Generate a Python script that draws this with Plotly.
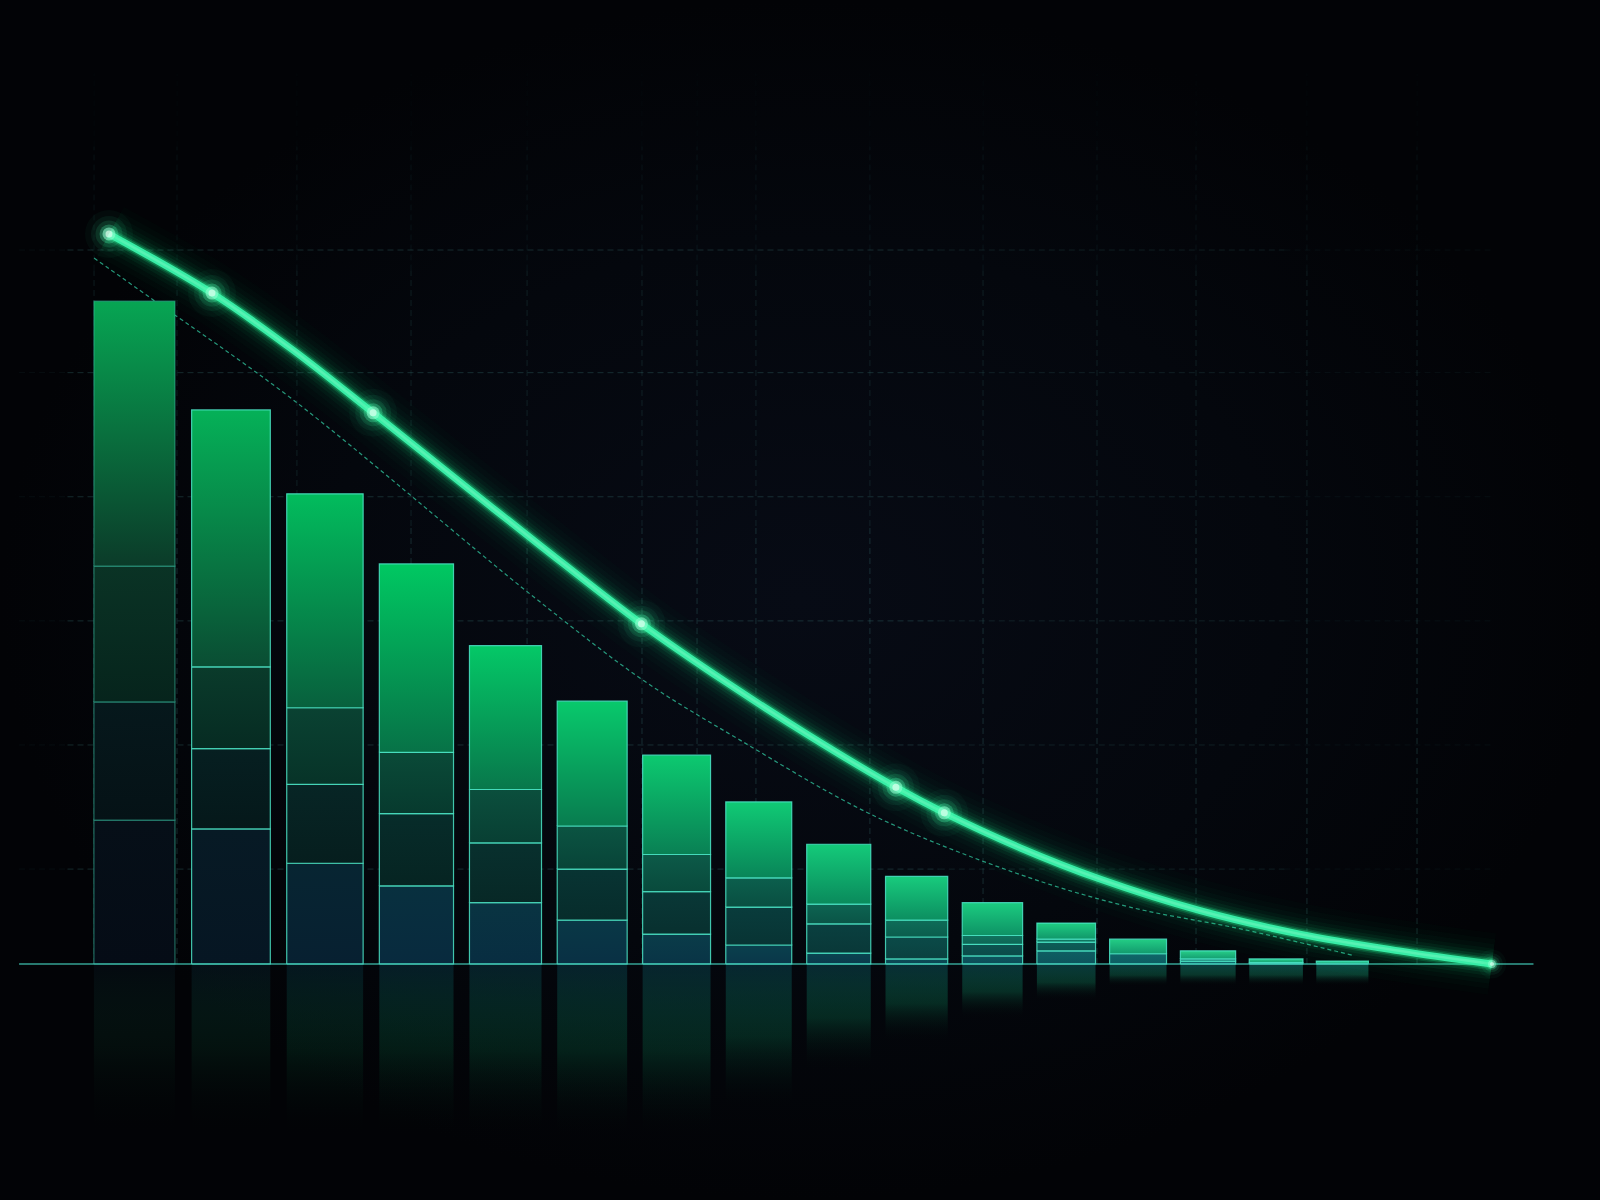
import plotly.graph_objects as go

# ---------------- DATA ----------------
periods = [f"P{i}" for i in range(1, 17)]
# stacked bar segments, bottom -> top
seg_base  = [19.7, 18.5, 13.8, 10.7, 8.4, 6.0, 4.1, 2.6, 1.5, 0.7, 1.1, 1.8, 1.4, 0.4, 0.2, 0.1]
seg_lower = [16.2, 11.0, 10.8, 9.9, 8.2, 7.0, 5.8, 5.2, 4.0, 3.0, 1.6, 1.2, 0.0, 0.3, 0.0, 0.0]
seg_upper = [18.6, 11.2, 10.5, 8.4, 7.3, 5.9, 5.1, 4.0, 2.7, 2.3, 1.2, 0.4, 0.0, 0.0, 0.0, 0.0]
seg_top   = [36.3, 35.2, 29.3, 25.8, 19.7, 17.1, 13.6, 10.4, 8.2, 6.0, 4.5, 2.2, 2.0, 1.1, 0.5, 0.3]

# glowing trend curve
trend_x = [0, 7.45, 13.3, 19.1, 25.4, 31.2, 38.5, 44.7, 50.7, 56.9, 60.4, 65.9, 71.7, 78.9, 86.1, 93.3, 100]
trend_y = [100, 91.9, 84.1, 75.5, 66.0, 57.3, 46.6, 38.5, 31.2, 24.2, 20.7, 15.9, 11.6, 7.3, 4.1, 1.8, 0]
marker_idx = [0, 1, 3, 6, 9, 10, 16]

# thin dashed guide curve
guide_x = [-1.08, 3.18, 13.3, 30.7, 38.6, 45.6, 55.2, 65.5, 73.8, 82.1, 89.9]
guide_y = [96.7, 91.0, 77.3, 50.3, 38.9, 30.7, 20.4, 12.5, 7.8, 4.7, 1.2]

# ---------------- LAYOUT / STYLE ----------------
X_RANGE = [-7.88, 107.81]
Y_RANGE = [-32.33, 132.05]
grid_v = [-1.08, 4.92, 13.59, 21.84, 30.23, 38.54, 42.52, 46.78, 55.02, 63.20, 71.44, 78.60, 86.62, 94.58]
grid_h = [13.0, 30.0, 47.0, 64.0, 81.0, 97.8]

n = len(periods)
centers, widths = [], []
c, step, w = 1.84, 6.98, 5.86
for i in range(n):
    centers.append(c)
    widths.append(w)
    c += step
    step *= 0.9735
    w *= 0.971


def hex2rgb(h):
    h = h.lstrip('#')
    return tuple(int(h[k:k + 2], 16) for k in (0, 2, 4))


def rgba(h, a):
    r, g, b = hex2rgb(h)
    return f"rgba({r},{g},{b},{a})"


def interp(anchors, t):
    pos = [0, 3 / 15, 8 / 15, 1.0]
    for k in range(len(pos) - 1):
        if t <= pos[k + 1]:
            f = (t - pos[k]) / (pos[k + 1] - pos[k])
            a, b = hex2rgb(anchors[k]), hex2rgb(anchors[k + 1])
            r = [round(a[j] + (b[j] - a[j]) * f) for j in range(3)]
            return '#%02x%02x%02x' % tuple(r)
    return anchors[-1]


# palettes (top colour, bottom colour) per segment, anchored at bars 1, 4, 9, 16
pal = {
    3: (['#07a553', '#00c862', '#14ca7a', '#2ed08e'], ['#0b3b29', '#077247', '#0a8a5c', '#18a57a']),
    2: (['#0a3325', '#0a4a38', '#0d6452', '#169a7c'], ['#06241c', '#073a2e', '#0a5446', '#13907a']),
    1: (['#06181c', '#072c2a', '#0a4040', '#118478'], ['#051216', '#062422', '#093838', '#0f7c72']),
    0: (['#060f18', '#08303f', '#0b4450', '#12807a'], ['#050c16', '#082a3e', '#0a3a4c', '#107672']),
}

fig = go.Figure()

# ---- background vignette ----
fig.add_trace(go.Scatter(
    x=[X_RANGE[0], X_RANGE[1], X_RANGE[1], X_RANGE[0], X_RANGE[0]],
    y=[Y_RANGE[0], Y_RANGE[0], Y_RANGE[1], Y_RANGE[1], Y_RANGE[0]],
    mode='lines', fill='toself', line=dict(width=0, color='rgba(0,0,0,0)'),
    fillgradient=dict(type='radial', colorscale=[[0, '#070b15'], [0.6, '#04070d'], [1, '#020306']]),
    hoverinfo='skip', showlegend=False))

# ---- grid (dashed, fading upward / to the right) ----
def add_lines(xs, ys, color, width, dash):
    fig.add_trace(go.Scatter(x=xs, y=ys, mode='lines', hoverinfo='skip', showlegend=False,
                             line=dict(color=color, width=width, dash=dash)))

for lo, hi, a in [(0, 60, 0.33), (60, 95, 0.22), (95, 112, 0.12), (112, 122, 0.05)]:
    xs, ys = [], []
    for gx in grid_v:
        xs += [gx, gx, None]
        ys += [lo, hi, None]
    add_lines(xs, ys, f"rgba(60,120,120,{a})", 1, '6px,4px')

for lo, hi, a in [(-6.5, -3, 0.1), (-3, 60, 0.33), (60, 85, 0.22), (85, 100, 0.1)]:
    xs, ys = [], []
    for gy in grid_h:
        xs += [lo, hi, None]
        ys += [gy, gy, None]
    add_lines(xs, ys, f"rgba(60,120,120,{a})", 1, '6px,4px')

# ---- dashed guide (behind bars) ----
fig.add_trace(go.Scatter(x=guide_x, y=guide_y, mode='lines', hoverinfo='skip', showlegend=False,
                         line=dict(color='rgba(50,200,160,0.75)', width=1.2, dash='4px,3px',
                                   shape='spline', smoothing=1.0)))

segs = [seg_base, seg_lower, seg_upper, seg_top]

# ---- reflections ----
for i in range(n):
    t = i / (n - 1)
    total = sum(s[i] for s in segs)
    d = min(max(total * 0.9, 3.0), 24.0)
    l, r = centers[i] - widths[i] / 2, centers[i] + widths[i] / 2
    c_bot = interp(pal[0][0], t)
    c_green = interp(pal[3][1], t)
    fig.add_trace(go.Scatter(
        x=[l, r, r, l, l], y=[0, 0, -d, -d, 0], mode='lines', fill='toself',
        line=dict(width=0, color='rgba(0,0,0,0)'),
        fillgradient=dict(type='vertical', colorscale=[
            [0, 'rgba(0,0,0,0)'],
            [0.5, rgba(c_green, 0.18 + 0.16 * t)],
            [1, rgba(c_bot, 0.55)]]),
        hoverinfo='skip', showlegend=False))

# ---- bars (stacked segments with vertical gradients) ----
for i in range(n):
    t = i / (n - 1)
    l, r = centers[i] - widths[i] / 2, centers[i] + widths[i] / 2
    outline = 'rgba(60,200,170,0.5)' if i == 0 else 'rgba(75,228,198,0.85)'
    b = 0.0
    for j, s in enumerate(segs):
        v = s[i]
        if v <= 0:
            continue
        top = b + v
        ctop = interp(pal[j][0], t)
        cbot = interp(pal[j][1], t)
        fig.add_trace(go.Scatter(
            x=[l, r, r, l, l], y=[b, b, top, top, b], mode='lines', fill='toself',
            line=dict(color=outline, width=1.2),
            fillgradient=dict(type='vertical', colorscale=[[0, cbot], [1, ctop]]),
            name=periods[i], hoverinfo='skip', showlegend=False))
        b = top

# ---- baseline ----
fig.add_trace(go.Scatter(x=[-6.5, 103], y=[0, 0], mode='lines', hoverinfo='skip', showlegend=False,
                         line=dict(color='rgba(70,215,195,0.75)', width=1.5)))

# ---- glowing trend line ----
for wdt, a in [(62, 0.014), (50, 0.02), (40, 0.028), (31, 0.04), (24, 0.06), (18, 0.09), (13, 0.16), (10, 0.3)]:
    fig.add_trace(go.Scatter(x=trend_x, y=trend_y, mode='lines', hoverinfo='skip', showlegend=False,
                             line=dict(color=f'rgba(30,235,140,{a})', width=wdt, shape='spline', smoothing=1.0)))
fig.add_trace(go.Scatter(x=trend_x, y=trend_y, mode='lines', hoverinfo='skip', showlegend=False,
                         line=dict(color='#38eca6', width=7, shape='spline', smoothing=1.0)))
fig.add_trace(go.Scatter(x=trend_x, y=trend_y, mode='lines', hoverinfo='skip', showlegend=False,
                         line=dict(color='rgba(160,255,210,0.3)', width=2.5, shape='spline', smoothing=1.0)))

mx = [trend_x[k] for k in marker_idx]
my = [trend_y[k] for k in marker_idx]
for sz, col in [(48, 'rgba(60,255,170,0.05)'), (36, 'rgba(60,255,170,0.09)'), (27, 'rgba(60,255,170,0.16)'),
                (19, 'rgba(80,255,180,0.38)'), (13, 'rgba(150,255,210,0.8)'), (7, 'rgba(225,255,240,0.95)')]:
    sizes = [sz if k != marker_idx[-1] else sz * 0.6 for k in marker_idx]
    fig.add_trace(go.Scatter(x=mx, y=my, mode='markers', hoverinfo='skip', showlegend=False,
                             marker=dict(size=sizes, color=col, line=dict(width=0))))

fig.update_layout(
    width=1600, height=1200,
    margin=dict(l=0, r=0, t=0, b=0),
    paper_bgcolor='#03050b', plot_bgcolor='#03050b',
    xaxis=dict(range=X_RANGE, visible=False, showgrid=False, zeroline=False, fixedrange=True),
    yaxis=dict(range=Y_RANGE, visible=False, showgrid=False, zeroline=False, fixedrange=True),
    showlegend=False,
)

fig.write_html("out.html", config={'displayModeBar': False},
               post_script="document.body.style.margin='0';document.body.style.background='#03050b';"
                           "document.body.style.overflow='hidden';")
